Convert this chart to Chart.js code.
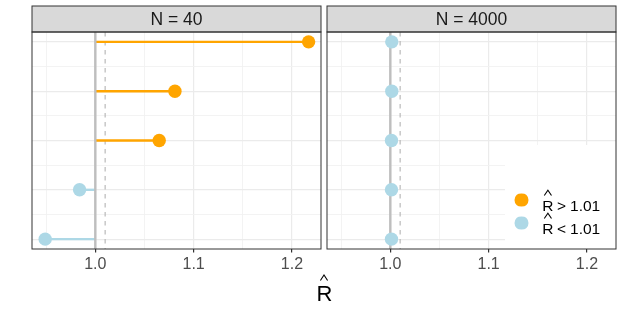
<!DOCTYPE html>
<html><head><meta charset="utf-8">
<script src="https://cdn.jsdelivr.net/npm/chart.js@4.4.1/dist/chart.umd.min.js"></script>
<style>
html,body{margin:0;padding:0;background:#fff;}
#wrap{position:relative;width:623px;height:312px;overflow:hidden;}
canvas{position:absolute;left:0;top:0;}
</style></head><body>
<div id="wrap"><canvas id="c1" width="623" height="312"></canvas><canvas id="c2" width="623" height="312"></canvas></div>
<script>
// ---- data ----
const panels = ['N = 40', 'N = 4000'];
const rows = [1, 2, 3, 4, 5];
const rhatN40 = [1.217, 1.081, 1.065, 0.984, 0.949];
const rhatN4000 = [1.0015, 1.0015, 1.0012, 1.0012, 1.0012];
const majorTicks = [1.0, 1.1, 1.2];
const minorTicks = [0.95, 1.05, 1.15];
const threshold = 1.01;
const refLine = 1.0;
const legendRelations = ['>', '<'];
const legendValue = '1.01';
const axisTitle = 'R';

// ---- styling ----
const FONT = '"Liberation Sans", Arial, Helvetica, sans-serif';
const ORANGE = '#FFA500', BLUE = '#ADD8E6';
const xMin = 0.9356, xMax = 1.2296, yMin = 0.8, yMax = 5.2;
const allX = [...minorTicks, ...majorTicks].sort((a, b) => a - b);
const yMajor = rows.slice();
const yMinor = rows.slice(0, -1).map(r => r + 0.5);
const allY = [...yMajor, ...yMinor].sort((a, b) => a - b);
const isMajorX = v => majorTicks.some(m => Math.abs(m - v) < 1e-9);
const PANEL_TOP = 32, PANEL_BOTTOM = 249, STRIP_TOP = 6, PANEL_W = 289, XAXIS_H = 30;
const panelLefts = [32, 327];

function drawHat(ctx, cx, bottom, halfW, h) {
  ctx.beginPath();
  ctx.moveTo(cx - halfW, bottom);
  ctx.lineTo(cx, bottom - h);
  ctx.lineTo(cx + halfW, bottom);
  ctx.strokeStyle = '#000';
  ctx.lineWidth = 1.1;
  ctx.stroke();
}

function drawLegend(ctx, a) {
  ctx.fillStyle = '#fff';
  ctx.fillRect(505, 145, a.right - 505, a.bottom - 145);
  const colors = [ORANGE, BLUE];
  const ys = [200, 223];
  legendRelations.forEach((rel, i) => {
    const cy = ys[i];
    ctx.save();
    ctx.beginPath();
    ctx.rect(510, cy - 6.4, 25, 12.8);
    ctx.clip();
    ctx.beginPath();
    ctx.arc(521.5, cy, 7, 0, Math.PI * 2);
    ctx.fillStyle = colors[i];
    ctx.fill();
    ctx.restore();
    ctx.font = '15.5px ' + FONT;
    ctx.fillStyle = '#000';
    ctx.textAlign = 'left';
    ctx.textBaseline = 'alphabetic';
    const base = cy + 11;
    let x = 542.3;
    ctx.fillText(axisTitle, x, base);
    const rw = ctx.measureText(axisTitle).width;
    drawHat(ctx, x + rw * 0.5, base - 15.5, 3.6, 5.2);
    x += rw + 3.5;
    ctx.fillText(rel, x, base);
    x += ctx.measureText(rel).width + 4;
    ctx.fillText(legendValue, x, base);
  });
}

const panelPlugin = {
  id: 'panel',
  afterDraw(chart, args, opts) {
    const ctx = chart.ctx, a = chart.chartArea;
    ctx.save();
    if (opts.legend) drawLegend(ctx, a);
    ctx.fillStyle = '#d9d9d9';
    ctx.fillRect(a.left, STRIP_TOP, a.right - a.left, a.top - STRIP_TOP);
    ctx.strokeStyle = '#333';
    ctx.lineWidth = 1;
    ctx.strokeRect(a.left, STRIP_TOP, a.right - a.left, a.top - STRIP_TOP);
    ctx.strokeRect(a.left, a.top, a.right - a.left, a.bottom - a.top);
    ctx.fillStyle = '#1a1a1a';
    ctx.font = '17.5px ' + FONT;
    ctx.textAlign = 'center';
    ctx.textBaseline = 'middle';
    ctx.fillText(opts.label, (a.left + a.right) / 2, (STRIP_TOP + a.top) / 2 + 1);
    if (opts.title) {
      ctx.font = '22px ' + FONT;
      ctx.fillStyle = '#000';
      ctx.textBaseline = 'alphabetic';
      ctx.textAlign = 'center';
      const cx = 324.5;
      ctx.fillText(axisTitle, cx, 301);
      drawHat(ctx, cx - 0.5, 280.5, 3.6, 5.5);
    }
    ctx.restore();
  }
};

function makeChart(id, idx, vals) {
  const left = panelLefts[idx];
  const right = left + PANEL_W;
  const colors = vals.map(v => v > threshold ? ORANGE : BLUE);
  const datasets = [];
  datasets.push({
    type: 'scatter',
    data: rows.map((r, i) => ({ x: vals[i], y: r })),
    pointRadius: 6.7, pointHoverRadius: 6.7,
    pointBackgroundColor: colors, pointBorderWidth: 0, borderWidth: 0
  });
  datasets.push({
    type: 'line',
    data: [{ x: refLine, y: yMin }, { x: refLine, y: yMax }],
    borderColor: '#bebebe', borderWidth: 2.4, pointRadius: 0
  });
  rows.forEach((r, i) => datasets.push({
    type: 'line',
    data: [{ x: refLine, y: r }, { x: vals[i], y: r }],
    borderColor: colors[i], borderWidth: 2.4, pointRadius: 0
  }));
  datasets.push({
    type: 'line',
    data: [{ x: threshold, y: yMin }, { x: threshold, y: yMax }],
    borderColor: '#b3b3b3', borderWidth: 1.1, borderDash: [4.5, 4.5], pointRadius: 0
  });
  return new Chart(document.getElementById(id), {
    data: { datasets },
    plugins: [panelPlugin],
    options: {
      responsive: false, animation: false, devicePixelRatio: 1, events: [],
      layout: { padding: { left: left, right: 623 - right, top: PANEL_TOP, bottom: 312 - PANEL_BOTTOM - XAXIS_H } },
      plugins: {
        legend: { display: false }, tooltip: { enabled: false },
        panel: { label: panels[idx], legend: idx === 1, title: idx === 0 }
      },
      scales: {
        x: {
          type: 'linear', min: xMin, max: xMax,
          afterFit: s => { s.height = XAXIS_H; },
          afterBuildTicks: s => { s.ticks = allX.map(v => ({ value: v })); },
          ticks: {
            autoSkip: false, maxRotation: 0, minRotation: 0, padding: 2.5,
            color: '#4d4d4d', font: { family: FONT, size: 16 },
            callback: v => isMajorX(v) ? v.toFixed(1) : ''
          },
          grid: {
            color: c => (c.tick && isMajorX(c.tick.value)) ? '#ebebeb' : '#f2f2f2',
            lineWidth: c => (c.tick && isMajorX(c.tick.value)) ? 1.2 : 0.9,
            tickLength: 3.5,
            tickColor: c => (c.tick && isMajorX(c.tick.value)) ? '#333' : 'rgba(0,0,0,0)'
          },
          border: { display: false }
        },
        y: {
          type: 'linear', reverse: true, min: yMin, max: yMax,
          afterFit: s => { s.width = 0; },
          afterBuildTicks: s => { s.ticks = allY.map(v => ({ value: v })); },
          ticks: { display: false },
          grid: {
            color: c => (c.tick && Number.isInteger(c.tick.value)) ? '#ebebeb' : '#f2f2f2',
            lineWidth: c => (c.tick && Number.isInteger(c.tick.value)) ? 1.2 : 0.9,
            drawTicks: false
          },
          border: { display: false }
        }
      }
    }
  });
}

makeChart('c1', 0, rhatN40);
makeChart('c2', 1, rhatN4000);
</script>
</body></html>
